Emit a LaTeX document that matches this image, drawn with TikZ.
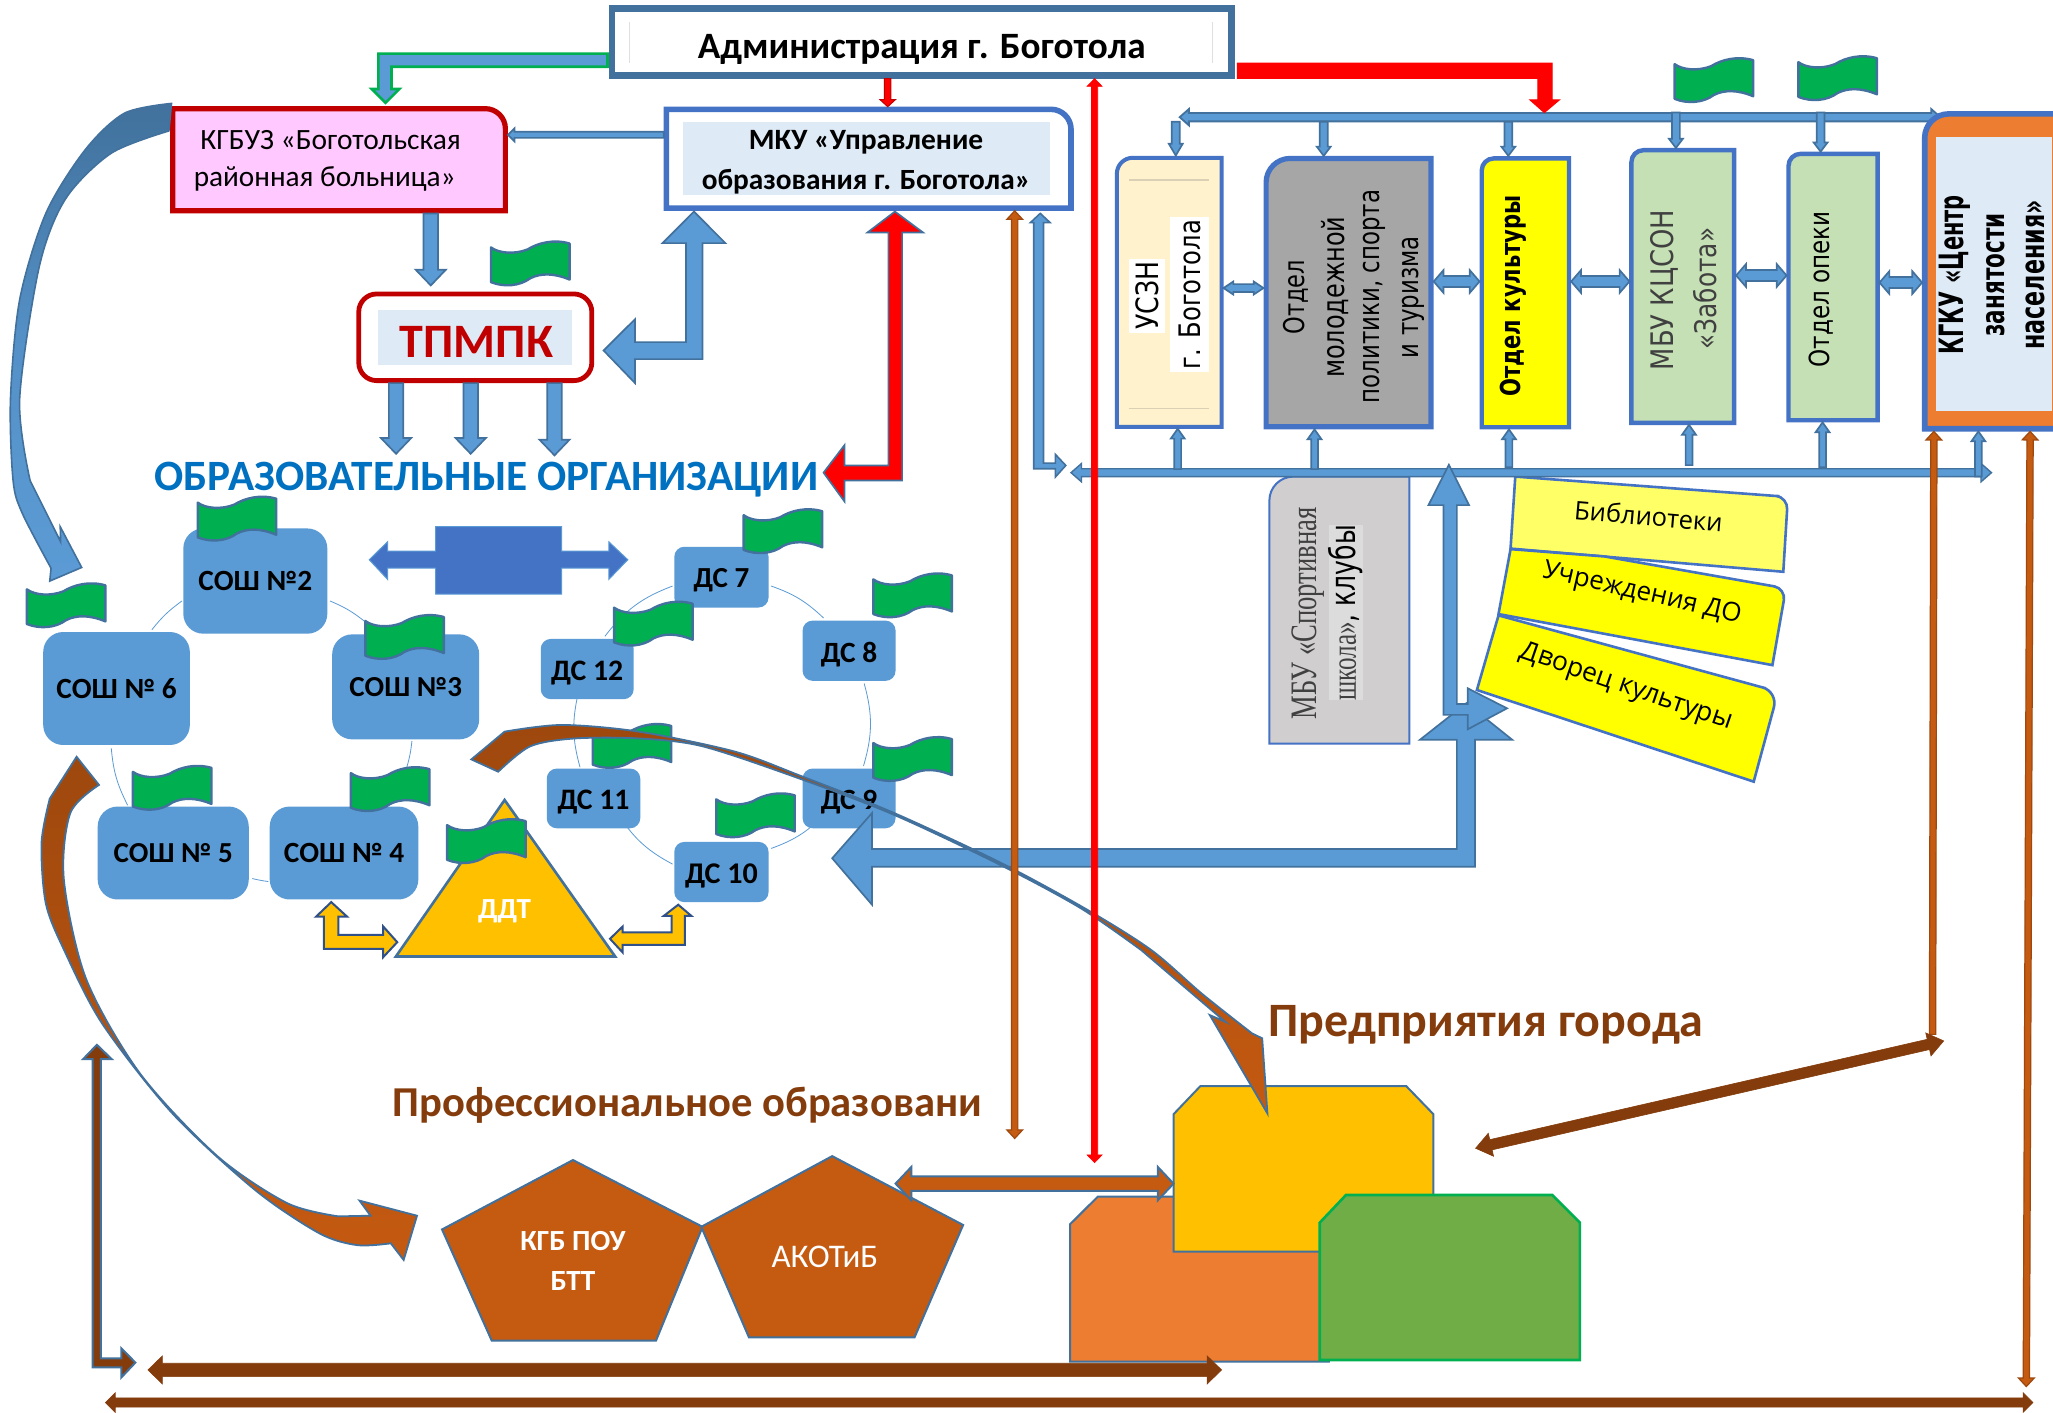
\documentclass[tikz,border=0pt]{standalone}
\usepackage{fontspec}
\usepackage{graphicx}
\setmainfont{Carlito}
\newfontfamily\djv{DejaVu Sans}
\newfontfamily\osf{Open Sans}
\newfontfamily\lsr{Liberation Serif}
\usetikzlibrary{calc}
\newlength\uu \setlength{\uu}{0.654656pt}
\definecolor{bl}{HTML}{5B9BD5}
\definecolor{edge}{HTML}{41719C}
\definecolor{royal}{HTML}{4472C4}
\definecolor{dred}{HTML}{C00000}
\definecolor{pure}{HTML}{FF0000}
\definecolor{yel}{HTML}{FFFF00}
\definecolor{yell}{HTML}{FFFF66}
\definecolor{flagg}{HTML}{00B050}
\definecolor{pale}{HTML}{DEEAF6}
\definecolor{pinkb}{HTML}{FFC9FF}
\definecolor{cream}{HTML}{FFF2CC}
\definecolor{leaf}{HTML}{C5E0B4}
\definecolor{orng}{HTML}{ED7D31}
\definecolor{gold}{HTML}{FFC000}
\definecolor{rust}{HTML}{C55A11}
\definecolor{dbrown}{HTML}{843C0C}
\definecolor{mbrown}{HTML}{9E480E}
\definecolor{grass}{HTML}{70AD47}
\definecolor{gtxt}{HTML}{404040}
\definecolor{graya}{HTML}{A6A6A6}
\definecolor{grayb}{HTML}{D0CECE}
\definecolor{grayc}{HTML}{DCDCDC}
\definecolor{orgblue}{HTML}{0070C0}
\tikzset{
 ba/.style={fill=bl,draw=edge,line width=0.85pt},
 rb/.style={fill=rust,draw=rust!80!black,line width=0.6pt},
 db/.style={fill=dbrown,draw=dbrown,line width=0.3pt},
 rednb/.style={fill=pure,draw=pure,line width=0.3pt},
 flagst/.style={fill=flagg,draw=edge,line width=1.2pt,line join=round},
 ring/.style={draw=bl,line width=0.4pt},
 bn/.style={fill=bl,draw=none,inner sep=0pt},
 blk/.style n args={3}{to path={
   let \p1=($(\tikztotarget)!#3*0.654656pt!(\tikztostart)$) in
   ($(\tikztostart)!#1*0.654656pt!90:(\tikztotarget)$)
   -- ($(\p1)!#1*0.654656pt!90:(\tikztotarget)$)
   -- ($(\p1)!#2*0.654656pt!90:(\tikztotarget)$)
   -- (\tikztotarget)
   -- ($(\p1)!#2*0.654656pt!-90:(\tikztotarget)$)
   -- ($(\p1)!#1*0.654656pt!-90:(\tikztotarget)$)
   -- ($(\tikztostart)!#1*0.654656pt!-90:(\tikztotarget)$) -- cycle}},
 dblk/.style n args={3}{to path={
   let \p1=($(\tikztotarget)!#3*0.654656pt!(\tikztostart)$),
       \p2=($(\tikztostart)!#3*0.654656pt!(\tikztotarget)$) in
   (\tikztostart)
   -- ($(\p2)!#2*0.654656pt!90:(\tikztotarget)$)
   -- ($(\p2)!#1*0.654656pt!90:(\tikztotarget)$)
   -- ($(\p1)!#1*0.654656pt!90:(\tikztotarget)$)
   -- ($(\p1)!#2*0.654656pt!90:(\tikztotarget)$)
   -- (\tikztotarget)
   -- ($(\p1)!#2*0.654656pt!-90:(\tikztotarget)$)
   -- ($(\p1)!#1*0.654656pt!-90:(\tikztotarget)$)
   -- ($(\p2)!#1*0.654656pt!-90:(\tikztotarget)$)
   -- ($(\p2)!#2*0.654656pt!-90:(\tikztotarget)$) -- cycle}},
}
\newcommand\fitw[2]{\resizebox{#1\uu}{!}{#2}}
\newcommand\low[1]{\raisebox{-0.12em}[\height][\depth]{#1}}
\newcommand\tx[6][]{\node[inner sep=0pt,rotate=#5,#1] (#2) at (#3) {\fitw{#4}{#6}};}
\newcommand\tv[6][]{\node[inner sep=0pt,rotate=90,#1] (#2) at (#3) {\scalebox{1}[#5]{\fitw{#4}{#6}}};}
\newcommand\spot[5]{\node[inner sep=0pt,outer sep=0pt,minimum width={(#4-#2)*0.654656pt},minimum height={(#5-#3)*0.654656pt}] (#1) at ({(#2+#4)/2},{(#3+#5)/2}) {};}
\newcommand\rn[8]{\node[bn,rounded corners=#8,minimum width={(#4-#2)*0.654656pt},minimum height={(#5-#3)*0.654656pt},font=\bfseries] (#1) at ({(#2+#4)/2},{(#3+#5)/2}) {\fitw{#6}{#7}};}
\newcommand\flag[2]{\filldraw[flagst,shift={(#1,#2)}] (0,4.5) .. controls (6,9) and (18,10) .. (28,6) .. controls (36,1) and (48,-2) .. (60,1.5) -- (60,29) .. controls (48,24) and (38,24) .. (30,28) .. controls (22,34) and (10,35) .. (0,31) -- cycle;}
\begin{document}
\begin{tikzpicture}[x=0.654656pt,y=-0.654656pt]
\path[use as bounding box,clip] (0,0) rectangle (1568,1079.2);
\fill[white] (0,0) rectangle (1568,1079.2);

% left cycle
\draw[ring] (116,481) to[bend left=8] (139,459);
\draw[ring] (252,459) to[bend left=8] (279,475);
\draw[ring] (314.6,566) to[bend left=5] (310.7,586);
\draw[ring] (205,673.3) to[bend left=3] (192.7,671);
\draw[ring] (97.5,615) to[bend left=11] (85,571.5);
% right cycle
\draw[ring] (462,486) to[bend left=16] (513.7,447.6);
\draw[ring] (589,447.6) to[bend left=12] (629,472);
\draw[ring] (660,522) to[bend left=16] (659.5,585);
\draw[ring] (629,623) to[bend left=12] (589,648);
\draw[ring] (513.7,660) to[bend left=14] (473,623.4);
\draw[ring] (443,586) to[bend left=14] (441.5,529.9);

\rn{s2}{140}{403.6}{250}{484}{87}{СОШ №2}{10pt}
\rn{s6}{33}{482.7}{145}{569}{92}{СОШ № 6}{10pt}
\rn{s3}{253.7}{484.5}{366}{564.7}{86}{СОШ №3}{10pt}
\rn{s5}{74.6}{616}{190}{687}{91}{СОШ № 5}{10pt}
\rn{s4}{206}{616}{319.5}{687}{92}{СОШ № 4}{10pt}
\rn{d7}{515}{417.6}{587}{464}{42.5}{\low{ДС 7}}{5pt}
\rn{d8}{613}{474}{684}{520}{43}{\low{ДС 8}}{5pt}
\rn{d12}{413}{488}{484}{534}{55}{\low{ДС 12}}{5pt}
\rn{d11}{417.6}{587}{489}{632.6}{55}{\low{ДС 11}}{5pt}
\rn{d9}{613}{587}{684}{632.6}{43}{\low{ДС 9}}{5pt}
\rn{d10}{515}{643}{587}{689}{55.6}{\low{ДС 10}}{5pt}

% middle double arrow
\filldraw[fill=royal,draw=bl,line width=0.5pt] (282,427.5) -- (296,413.8) -- (296,420.9) -- (332.7,420.9) -- (332.7,402.3) -- (429,402.3) -- (429,420.9) -- (465,420.9) -- (465,413.8) -- (479.5,427.5) -- (465,442.5) -- (465,434) -- (429,434) -- (429,453.7) -- (332.7,453.7) -- (332.7,434) -- (296,434) -- (296,442.5) -- cycle;

% triangle
\filldraw[fill=gold,draw=edge,line width=1.3pt] (385.4,611) -- (469.8,730.5) -- (302.4,730.5) -- cycle;
\tx[font=\bfseries,text=white]{ddt}{385.4,696}{40.5}{0}{ДДТ}

% small gold arrows
\filldraw[fill=gold,draw=royal!70!black,line width=1pt] (253,689) -- (265,700) -- (258.5,700) -- (258.5,714) -- (292.7,714) -- (292.7,707.6) -- (303.4,719.6) -- (292.7,731) -- (292.7,724.7) -- (247.3,724.7) -- (247.3,700) -- (241.5,700) -- cycle;
\filldraw[fill=gold,draw=royal!70!black,line width=1pt] (465.9,717) -- (475.6,707.6) -- (475.6,712.2) -- (513,712.2) -- (513,699.5) -- (507,699.5) -- (518,691) -- (528,699.5) -- (523,699.5) -- (523,721.7) -- (475.6,721.7) -- (475.6,727.5) -- cycle;

% flags
\flag{375}{184.5}\flag{1279}{44.5}\flag{1373.5}{43}
\flag{151}{379.4}\flag{20.5}{445.6}\flag{279}{469.8}
\flag{568}{389}\flag{469}{459.6}\flag{667}{438}
\flag{667}{563}\flag{452.7}{553}\flag{547}{606}
\flag{101.5}{585}\flag{268}{586}\flag{341.5}{625.7}

% administration
\filldraw[fill=white,draw=edge,line width=3.3pt] (467.5,6.5) rectangle (940.5,57.5);
\draw[gray!25,line width=0.5pt] (481,17) -- (481,48) (926,17) -- (926,48);
\spot{adm}{465}{4}{943}{60}
\tx[font=\bfseries]{admt}{704,38}{342}{0}{Администрация г. Боготола}

% КГБУЗ
\filldraw[fill=pinkb,draw=dred,line width=2.6pt] (132,161) -- (132,83) [rounded corners=10pt] -- (386,83) [sharp corners] -- (386,161) -- cycle;
\spot{kgb}{130}{81}{388}{163}
\tx{kgb1}{252.5,107}{199}{0}{КГБУЗ «Боготольская}
\tx{kgb2}{248,137}{200}{0}{районная больница»}

% МКУ
\filldraw[fill=white,draw=royal,line width=2.8pt] (509,159) -- (509,83.5) [rounded corners=10pt] -- (818,83.5) [sharp corners] -- (818,159) -- cycle;
\fill[pale] (522,93) rectangle (802,149);
\spot{mku}{507}{81.5}{820}{161}
\tx[font=\bfseries]{mku1}{661.5,109}{179}{0}{МКУ «Управление}
\tx[font=\bfseries]{mku2}{661.5,139}{251}{0}{образования г. Боготола»}

% ТПМПК
\filldraw[fill=white,draw=dred,line width=2.4pt,rounded corners=9pt] (274,224.5) rectangle (452,290.7);
\fill[pale] (289,236.6) rectangle (437,278.6);
\spot{tp}{272}{222.6}{454}{292.6}
\tx[font=\bfseries,text=dred]{tpt}{364,261}{117}{0}{ТПМПК}

\tx[font=\bfseries,text=orgblue]{org}{371.5,366}{507}{0}{ОБРАЗОВАТЕЛЬНЫЕ ОРГАНИЗАЦИИ}
\coordinate (o1) at (302.5,346.6);
\coordinate (o2) at (359.5,346.6);
\coordinate (o3) at (423.5,347.8);

% green arrow to КГБУЗ
\filldraw[fill=bl,draw=flagg,line width=1.3pt] (464,41) -- (289,41) -- (289,68) -- (284,68) -- (294.5,78.5) -- (305,68) -- (299,68) -- (299,51) -- (464,51) -- cycle;
\draw[fill=pure,draw=dred,line width=0.5pt,blk={2.5}{6}{5.5}] (adm.south -| 678,0) to (mku.north -| 678,0);
\draw[ba,blk={2.3}{5}{5}] (mku.west |- 0,103) to (kgb.east |- 0,103);
\draw[ba,blk={5.5}{11.5}{12}] (kgb.south -| 329,0) to ([yshift=3pt]tp.north -| 329,0);
\draw[ba,blk={5.5}{11.5}{12}] (tp.south -| 302.5,0) to (o1);
\draw[ba,blk={5.5}{11.5}{12}] (tp.south -| 359.5,0) to (o2);
\draw[ba,blk={5.5}{11.5}{12}] (tp.south -| 423.5,0) to (o3);

% bent arrows at МКУ
\filldraw[ba] (530,161.6) -- (554,185.7) -- (536.5,185.7) -- (536.5,274.3) -- (485,274.3) -- (485,292.6) -- (461,267.7) -- (485,243.8) -- (485,261.3) -- (524,261.3) -- (524,185.7) -- (506,185.7) -- cycle;
\filldraw[fill=pure,draw=edge,line width=0.85pt] (683.5,161.6) -- (705,177.6) -- (689,177.6) -- (689,367) -- (645,367) -- (645,383) -- (629,361) -- (645,340) -- (645,355.5) -- (678.5,355.5) -- (678.5,177.6) -- (662.5,177.6) -- cycle;

% curved arrow КГБУЗ -> СОШ 6
\path[shade,top color=edge,bottom color=bl,middle color=bl!75!edge,draw=edge,line width=0.8pt]
 plot[smooth] coordinates {(131,79)(95,86.5)(65,114.5)(35,163)(15,229)(8,305)(10,367)(17,392)(39,434)}
 -- (38,443.8) -- (62.4,433.4) -- (46,402.3) -- (46.3,413.8)
 -- plot[smooth] coordinates {(23,367)(15,305)(30,203.6)(50,152)(85,117)(129,100)} -- cycle;

% right buses and boxes
\spot{busa}{901}{86}{1482}{93}
\draw[ba,line width=0.9pt,dblk={3.2}{6.2}{7}] (901,89.5) to (1482,89.5);
\filldraw[fill=pure,draw=pure,line width=0.5pt] (945,48.3) -- (1185.5,48.3) -- (1185.5,76.3) -- (1191,76.3) -- (1179.5,86) -- (1168.5,76.3) -- (1174.5,76.3) -- (1174.5,59.8) -- (945,59.8) -- cycle;

\filldraw[fill=cream,draw=royal,line width=2pt] (853,326) [rounded corners=8pt] -- (853,120.5) [sharp corners] -- (933,120.5) -- (933,326) -- cycle;
\draw[cream!70!gray,line width=0.7pt] (862,137.4) -- (923.5,137.4) (862,312) -- (923.5,312);
\spot{usz}{851}{118.8}{934.5}{327.5}
\tv[font=\djv,fill=white,inner xsep=1.5pt,minimum height=28\uu]{usz1}{876,226}{52}{1.22}{УСЗН}
\tv[font=\djv,fill=white,inner xsep=1.5pt,minimum height=30\uu]{usz2}{908.5,225}{114}{1.22}{г. Боготола}

\filldraw[fill=graya,draw=royal,line width=2.6pt] (967,326) [rounded corners=12pt] -- (967,121) [sharp corners] -- (1093,121) -- (1093,326) -- cycle;
\spot{mol}{965}{119}{1095}{328}
\tv[font=\djv]{mol1}{989.5,227}{57}{1.27}{Отдел}
\tv[font=\djv]{mol2}{1019.5,227}{123.4}{1.27}{молодежной}
\tv[font=\djv]{mol3}{1049.5,226.5}{163}{1.27}{политики, спорта}
\begin{scope}
\clip (1060,140) rectangle (1087,310);
\tv[font=\djv]{mol4}{1079.5,227}{93}{1.27}{и туризма}
\end{scope}

\filldraw[fill=yel,draw=royal,line width=2.2pt] (1131.7,326.3) [rounded corners=6pt] -- (1131.7,121) [sharp corners] -- (1198.3,121) -- (1198.3,326.3) -- cycle;
\spot{kul}{1130}{119}{1200}{328}
\tv[font=\bfseries\djv]{kult}{1156,226}{154}{1.3}{Отдел культуры}

\filldraw[fill=leaf,draw=royal,line width=2.2pt] (1246,323) [rounded corners=6pt] -- (1246,114.7) [sharp corners] -- (1324.5,114.7) -- (1324.5,323) -- cycle;
\spot{zab}{1244.5}{113}{1326}{324.5}
\tv[font=\djv,text=gtxt]{zab1}{1271,221.5}{122.5}{1.2}{МБУ КЦСОН}
\tv[font=\djv,text=gtxt]{zab2}{1302,220.5}{93}{1.2}{«Забота»}

\filldraw[fill=leaf,draw=royal,line width=2.2pt] (1366,321) [rounded corners=6pt] -- (1366,117.5) [sharp corners] -- (1434,117.5) -- (1434,321) -- cycle;
\spot{ope}{1364.5}{115.8}{1435.5}{322.6}
\tv[font=\djv,text=black]{opet}{1391,221}{119.4}{1.2}{Отдел опеки}

\filldraw[fill=orng,draw=royal,line width=2.8pt] (1470,327.5) [rounded corners=12pt] -- (1470,87) [sharp corners] -- (1575,87) -- (1575,327.5) -- cycle;
\fill[pale] (1479,105) rectangle (1567,313.7);
\spot{kgku}{1468}{85}{1580}{329.5}
\tv[font=\bfseries\djv]{kg1}{1493,210}{122}{1.6}{КГКУ «Центр}
\tv[font=\bfseries\djv]{kg2}{1524.5,210}{94}{1.5}{занятости}
\tv[font=\bfseries\djv]{kg3}{1554.5,210}{114}{1.5}{населения»}

% arrows from top bus
\draw[ba,blk={3}{5.3}{9}] (busa.south -| 898,0) to (usz.north -| 898,0);
\draw[ba,blk={3}{5.3}{7}] (busa.south -| 1011,0) to (mol.north -| 1011,0);
\draw[ba,blk={3}{5.3}{7}] (busa.south -| 1152,0) to (kul.north -| 1152,0);
\draw[ba,blk={3}{5.3}{7}] (busa.north -| 1280,0) to (zab.north -| 1280,0);
\draw[ba,blk={3}{5.3}{7}] (busa.north -| 1390.5,0) to (ope.north -| 1390.5,0);

% arrows between boxes
\draw[ba,dblk={3}{5}{7.5}] (usz.east |- 0,220) to (mol.west |- 0,220);
\draw[ba,dblk={4.2}{8.7}{7.5}] (mol.east |- 0,215) to (kul.west |- 0,215);
\draw[ba,dblk={4.2}{8.7}{7.5}] (kul.east |- 0,215) to (zab.west |- 0,215);
\draw[ba,dblk={4.2}{8.7}{7.5}] (zab.east |- 0,210.4) to (ope.west |- 0,210.4);
\draw[ba,dblk={4.2}{8.7}{7.5}] (ope.east |- 0,215.8) to (kgku.west |- 0,215.8);

% grey box, pages
\filldraw[fill=grayb,draw=royal,line width=1pt] (969.5,568) [rounded corners=12pt] -- (969.5,364) [sharp corners] -- (1076.5,364) -- (1076.5,568) -- cycle;
\spot{gry}{969}{364}{1077}{568.5}
\tv[font=\lsr,text=gtxt]{gry1}{999,468.5}{162}{1.4}{МБУ «Спортивная}
\tv[fill=grayc]{gry2}{1028,468}{134}{1.4}{{\lsr\color{gtxt}школа»}{\djv, клубы}}

\filldraw[fill=yell,draw=royal,line width=1.3pt] (1157.3,364) -- (1359,379) [rounded corners=6pt] -- (1365.5,379.8) [sharp corners] -- (1362,436.7) -- (1153.7,419) -- cycle;
\filldraw[fill=yel,draw=royal,line width=1.3pt] (1153.7,419.4) -- (1225.5,425) -- (1356,448) [rounded corners=6pt] -- (1364,449.5) [sharp corners] -- (1353.7,508) -- (1144.5,469) -- cycle;
\filldraw[fill=yel,draw=royal,line width=1.3pt] (1144.5,470) -- (1348.6,525.7) [rounded corners=8pt] -- (1358,528.5) [sharp corners] -- (1339.4,597) -- (1128,527) -- cycle;
\tx[font=\osf]{lib}{1259,394}{113.6}{-5}{Библиотеки}
\tx[font=\osf]{uch}{1254,453.5}{155}{-13}{Учреждения ДО}
\tx[font=\osf]{dvo}{1242,525}{170}{-19}{Дворец культуры}

% lower bus
\spot{busb}{818}{358.3}{1521}{364}
\draw[ba,line width=0.7pt,dblk={3}{7}{8}] (818,361) to (1521,361);
\filldraw[ba,line width=0.8pt] (794.5,163) -- (802,170) -- (797,170) -- (797,353.7) -- (806,353.7) -- (806,347) -- (814,355.5) -- (806,364.4) -- (806,358) -- (789.5,358) -- (789.5,170) -- (787,170) -- cycle;
\draw[ba,blk={2.6}{5.3}{7.5}] (busb.north -| 899.5,0) to (usz.south -| 899.5,0);
\draw[ba,blk={2.6}{5.3}{7.5}] (busb.north -| 1004,0) to (mol.south -| 1004,0);
\draw[ba,blk={2.6}{5.3}{7.5}] ([yshift=1pt]busb.north -| 1152.5,0) to (kul.south -| 1152.5,0);
\draw[ba,blk={2.6}{5.3}{7.5}] ([yshift=2pt]busb.north -| 1290,0) to (zab.south -| 1290,0);
\draw[ba,blk={2.6}{5.3}{7.5}] ([yshift=1pt]busb.north -| 1392,0) to (ope.south -| 1392,0);
\draw[ba,blk={2.6}{5.3}{7.5}] (busb.south -| 1511,0) to (kgku.south -| 1511,0);

% big blue bent arrows
\filldraw[ba] (635.6,655.5) -- (666,621) -- (666,648.4) -- (1112.7,648.4) -- (1112.7,565) -- (1084.5,565) -- (1120,537) -- (1155,565) -- (1126.6,565) -- (1126.6,662) -- (666,662) -- (666,691) -- cycle;
\filldraw[ba] (1106.6,355) -- (1122,385.8) -- (1112.7,385.8) -- (1112.7,537.7) -- (1121,537.7) -- (1121,525.7) -- (1151,541) -- (1121,557) -- (1121,546) -- (1102.5,546) -- (1102.5,385.8) -- (1091,385.8) -- cycle;

% pentagons
\filldraw[fill=rust,draw=edge,line width=1pt] (437.6,886) -- (536.6,937) -- (501,1024) -- (375.6,1024) -- (337.6,939) -- cycle;
\filldraw[fill=rust,draw=edge,line width=1pt] (635.6,883) -- (735.6,935.6) -- (698.5,1021.4) -- (572,1021.4) -- (535.6,937) -- cycle;
\spot{pe1}{338}{886}{536}{1024}
\spot{pe2}{536}{883}{735}{1021}
\tx[font=\bfseries,text=white]{pe1a}{437.6,948}{80.5}{0}{КГБ ПОУ}
\tx[font=\bfseries,text=white]{pe1b}{437.6,978.4}{34}{0}{БТТ}
\tx[text=white]{pe2a}{630,960}{81.5}{0}{АКОТиБ}

% enterprises
\filldraw[fill=orng,draw=edge,line width=1pt] (838.4,914) -- (994,914) -- (1015,935) -- (1015,1040) -- (817.3,1040) -- (817.3,935) -- cycle;
\filldraw[fill=gold,draw=edge,line width=1pt] (916.8,829.5) -- (1074,829.5) -- (1094.8,851) -- (1094.8,956) -- (896.3,956) -- (896.3,851) -- cycle;
\filldraw[fill=grass,draw=flagg,line width=1.3pt] (1028,912.7) -- (1185.6,912.7) -- (1206.6,933.8) -- (1206.6,1038.7) -- (1008,1038.7) -- (1008,933.8) -- cycle;
\spot{ent}{896.3}{829.5}{1094.8}{956}
\tx[font=\bfseries,text=dbrown]{enttxt}{1135,783}{332}{0}{Предприятия города}
\tx[font=\bfseries,text=dbrown]{proftxt}{525,844}{450}{0}{Профессиональное образовани}

% curved brown arrows
\path[shade,top color=mbrown,bottom color=rust,draw=edge,line width=0.9pt]
 (58.5,578) -- plot[smooth] coordinates {(38,610)(31.7,644)(35,690)(49,725.7)(78,781.7)(131.7,850.4)(195,909)(244,942)(273,951)(298.5,949.6)}
 -- (308.3,962.3) -- (318.5,928.5) -- (274.6,917) -- (283,928.5)
 -- plot[smooth] coordinates {(258.5,929)(219.5,919)(166,883)(107,820)(65.9,748)(48.8,672)(53.7,621)(75.6,599.5)} -- cycle;
\path[shade,top color=mbrown,bottom color=rust,draw=edge,line width=0.9pt]
 (360,580) -- plot[smooth] coordinates {(385.4,558.8)(429,553.7)(488,558.8)(561,574)(610,592)(683,621)(765,659.3)(830.7,695)(879.4,725.7)(918,759)(956.3,789.3)}
 -- (964,793) -- (968,850.4) -- (924,775.3) -- (935.8,780.4)
 -- plot[smooth] coordinates {(871.7,725.7)(825.5,693.7)(764,660.6)(683,622.4)(610,594.4)(536.6,570)(488,564)(439,564)(405,570)(380.5,589.4)} -- cycle;

% long vertical arrows
\coordinate (v1) at (775,869.5);
\coordinate (v2) at (836,888);
\coordinate (v3) at (1476,790);
\coordinate (v4) at (1547.6,1059);
\coordinate (dg1) at (1127,877);
\coordinate (dg2) at (1484.5,795);
\coordinate (lb1) at (113,1046.3);
\coordinate (lb2) at (933,1046.3);
\coordinate (lc1) at (80.5,1071.2);
\coordinate (lc2) at (1552.7,1071.2);
\coordinate (ak) at (684,904);
\draw[rb,dblk={2.4}{6}{6.5}] (mku.south -| 775,0) to (v1);
\draw[rednb,dblk={2.4}{5.8}{6}] (adm.south -| 836,0) to (v2);
\draw[rb,blk={2.4}{6}{6.5}] (v3) to (kgku.south -| 1477,0);
\draw[rb,dblk={2.4}{6}{6.5}] (kgku.south -| 1550.5,0) to (v4);
\draw[db,dblk={4}{9}{12}] (dg1) to (dg2);
\draw[db,dblk={5.1}{10.7}{11}] (lb1) to (lb2);
\draw[db,dblk={3.5}{7.5}{7.5}] (lc1) to (lc2);
\filldraw[fill=rust,draw=edge,line width=1pt,dblk={5.6}{12.7}{12}] (ak) to (ent.west |- 0,904);
\filldraw[fill=dbrown,draw=edge,line width=1pt] (74,798) -- (85.4,809) -- (77,809) -- (77,1037.4) -- (92.7,1037.4) -- (92.7,1029.8) -- (103.4,1040.7) -- (92.7,1052) -- (92.7,1044.3) -- (70.7,1044.3) -- (70.7,809) -- (63.4,809) -- cycle;
\end{tikzpicture}
\end{document}
